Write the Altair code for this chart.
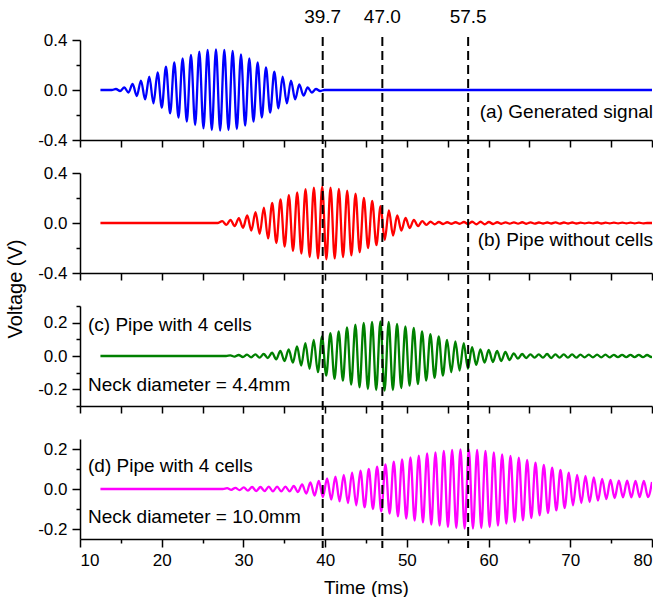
import altair as alt
import pandas as pd

FONT = "Liberation Sans"

# ---------------- data ----------------
period = 1.02          # carrier period (ms)
x_start, x_end = 12.5, 80.0

# (a) generated signal: per-cycle peak amplitude (V), first peak time (ms)
a_t0 = 14.4
a_amp = [0.008, 0.02, 0.048, 0.075, 0.107, 0.141, 0.187, 0.221, 0.253, 0.28,
         0.307, 0.32, 0.325, 0.32, 0.312, 0.285, 0.253, 0.221, 0.181, 0.147,
         0.107, 0.075, 0.045, 0.02, 0.008]

# (b) pipe without cells
b_t0 = 27.4
b_amp = [0.015, 0.025, 0.038, 0.06, 0.087, 0.123, 0.16, 0.188, 0.223, 0.245,
         0.27, 0.283, 0.29, 0.283, 0.272, 0.259, 0.234, 0.2, 0.177, 0.134,
         0.1, 0.06, 0.04, 0.025, 0.015, 0.01, 0.008, 0.006, 0.006, 0.008,
         0.01, 0.01, 0.008, 0.006, 0.005, 0.005, 0.006, 0.005, 0.004, 0.004,
         0.005, 0.004, 0.004, 0.003, 0.003, 0.004, 0.003, 0.003, 0.003, 0.003,
         0.003]

# (c) pipe with 4 cells, neck 4.4 mm
c_t0 = 28.4
c_amp = [0.004, 0.006, 0.008, 0.01, 0.012, 0.02, 0.03, 0.04, 0.057, 0.077,
         0.097, 0.117, 0.137, 0.148, 0.172, 0.188, 0.198, 0.204, 0.208, 0.204,
         0.192, 0.178, 0.168, 0.147, 0.131, 0.117, 0.097, 0.087, 0.077, 0.053,
         0.04, 0.036, 0.03, 0.024, 0.016, 0.012, 0.01, 0.01, 0.012, 0.01,
         0.01, 0.01, 0.008, 0.008, 0.008, 0.008, 0.007, 0.007, 0.007, 0.007,
         0.006]

# (d) pipe with 4 cells, neck 10.0 mm
d_t0 = 28.0
d_amp = [0.004, 0.006, 0.008, 0.01, 0.01, 0.012, 0.012, 0.012, 0.015, 0.023,
         0.033, 0.04, 0.053, 0.062, 0.07, 0.082, 0.092, 0.1, 0.112, 0.123,
         0.137, 0.148, 0.158, 0.167, 0.178, 0.183, 0.19, 0.195, 0.198, 0.198,
         0.195, 0.19, 0.183, 0.173, 0.165, 0.157, 0.145, 0.132, 0.12, 0.107,
         0.095, 0.082, 0.07, 0.065, 0.058, 0.05, 0.045, 0.042, 0.042, 0.04,
         0.04]
d_end_value = 0.035

markers = [39.7, 47.0, 57.5]
marker_labels = ["39.7", "47.0", "57.5"]

labels_a = ["(a) Generated signal"]
labels_b = ["(b) Pipe without cells"]
labels_c = ["(c) Pipe with 4 cells", "Neck diameter = 4.4mm"]
labels_d = ["(d) Pipe with 4 cells", "Neck diameter = 10.0mm"]

x_ticks = [10, 15, 20, 25, 30, 35, 40, 45, 50, 55, 60, 65, 70, 75, 80]
y_ticks_ab = [-0.4, -0.2, 0.0, 0.2, 0.4]
y_major_ab = [-0.4, 0.0, 0.4]
y_ticks_c = [-0.3, -0.2, -0.1, 0.0, 0.1, 0.2, 0.3]
y_ticks_d = [-0.2, -0.1, 0.0, 0.1, 0.2]
y_major_cd = [-0.2, 0.0, 0.2]


def build(t0, amps, end_value=0.0):
    rows = [(x_start, 0.0), (t0 - period / 2, 0.0)]
    for k, A in enumerate(amps):
        rows.append((t0 + k * period, A))
        rows.append((t0 + (k + 0.5) * period, -A))
    t_next = t0 + len(amps) * period
    if t_next < x_end:
        rows.append((t_next, 0.0))
    rows.append((x_end, end_value))
    return pd.DataFrame(rows, columns=["t", "v"])


W, H, GAP = 572, 100, 33


def y_axis(ticks, majors):
    test = "indexof(%s, datum.value) >= 0" % str(majors)
    return alt.Axis(
        values=ticks,
        title=None,
        grid=False,
        labelExpr="%s ? (datum.value < 0 ? '-' : '') + format(abs(datum.value), '.1f') : ''" % test,
        tickSize={"condition": {"test": test, "value": 8}, "value": 4},
        labelPadding=5,
    )


def x_axis(bottom):
    if bottom:
        return alt.Axis(
            values=x_ticks,
            grid=False,
            title="Time (ms)",
            labelExpr="datum.value % 10 == 0 ? datum.value + '' : ''",
            tickSize={"condition": {"test": "datum.value % 10 == 0", "value": 8}, "value": 4},
            labelPadding=5,
            titlePadding=10,
        )
    return alt.Axis(values=x_ticks, grid=False, title=None, labels=False, tickSize=7)


def panel(df, color, domain, ticks, majors, texts, bottom=False):
    line = alt.Chart(df).mark_line(
        color=color, strokeWidth=2.3, interpolate="monotone", clip=True
    ).encode(
        x=alt.X("t:Q", scale=alt.Scale(domain=[10, 80], nice=False, zero=False), axis=x_axis(bottom)),
        y=alt.Y("v:Q", scale=alt.Scale(domain=domain, nice=False, zero=False), axis=y_axis(ticks, majors)),
    )
    layers = [line]
    for (txt, px, py, align) in texts:
        layers.append(
            alt.Chart(pd.DataFrame({"s": [txt]})).mark_text(
                font=FONT, fontSize=19, color="black", align=align, baseline="middle"
            ).encode(x=alt.value(px), y=alt.value(py), text="s:N")
        )
    return layers


pa = panel(build(a_t0, a_amp), "#0000ff", [-0.4, 0.4], y_ticks_ab, y_major_ab,
           [(labels_a[0], W + 1, 72, "right")])
pb = panel(build(b_t0, b_amp), "#ff0000", [-0.4, 0.4], y_ticks_ab, y_major_ab,
           [(labels_b[0], W + 1, 67, "right")])
pc = panel(build(c_t0, c_amp), "#008000", [-0.3, 0.3], y_ticks_c, y_major_cd,
           [(labels_c[0], 8, 19, "left"), (labels_c[1], 8, 79, "left")])
pd_ = panel(build(d_t0, d_amp, d_end_value), "#ff00ff", [-0.25, 0.25], y_ticks_d, y_major_cd,
            [(labels_d[0], 8, 27, "left"), (labels_d[1], 8, 78, "left")], bottom=True)

top_off = -(3 * (H + GAP))  # panel (a) top relative to panel (d)
mk = pd.DataFrame({"t": markers, "lab": marker_labels})
rules = alt.Chart(mk).mark_rule(color="black", strokeWidth=2, strokeDash=[9, 5]).encode(
    x="t:Q", y=alt.value(top_off - 3), y2=alt.value(H + 9)
)
rule_text = alt.Chart(mk).mark_text(font=FONT, fontSize=19, color="black", baseline="middle").encode(
    x="t:Q", text="lab:N", y=alt.value(top_off - 23)
)
ytitle = alt.Chart(pd.DataFrame({"s": ["Voltage (V)"]})).mark_text(
    font=FONT, fontSize=20, color="black", angle=270, baseline="middle", align="center"
).encode(x=alt.value(-64), y=alt.value(top_off + 249), text="s:N")

charts = []
for layers in (pa, pb, pc):
    charts.append(alt.layer(*layers).properties(width=W, height=H))
charts.append(alt.layer(*pd_, rules, rule_text, ytitle).properties(width=W, height=H))

chart = alt.vconcat(*charts, spacing=GAP, bounds="flush").properties(
    padding={"left": 5, "top": 8, "right": 0, "bottom": 0},
    background="white",
).configure_view(stroke=None).configure_axis(
    domainColor="black", tickColor="black", labelColor="black",
    domainWidth=1.5, tickWidth=1.5,
    labelFont=FONT, labelFontSize=17, titleFont=FONT, titleFontSize=19,
    titleColor="black", titleFontWeight="normal",
)

chart.save("out.html", embed_options={"renderer": "svg", "actions": False})
